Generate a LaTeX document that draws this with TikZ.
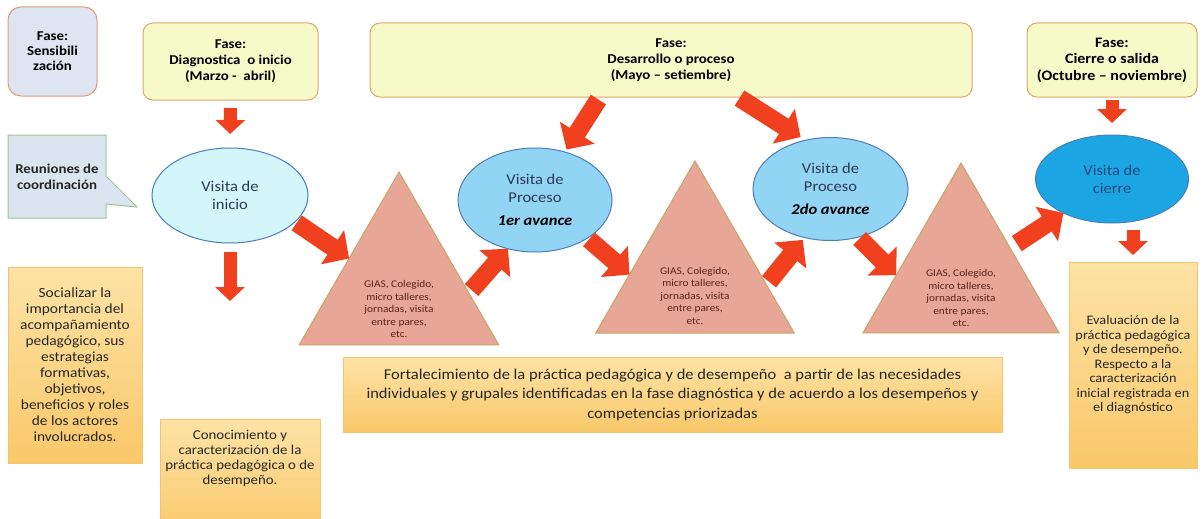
\documentclass[tikz,border=0pt]{standalone}
\usepackage{fontspec}
\setmainfont{Carlito}[FakeStretch=1.1]
\usetikzlibrary{arrows.meta,calc,shapes.geometric,shapes.callouts}
\definecolor{PLine}{HTML}{DDA76A}
\definecolor{PFill}{HTML}{F6FAC9}
\definecolor{SFill}{HTML}{DEE4F2}
\definecolor{SLine}{HTML}{DE9C7C}
\definecolor{RFill}{HTML}{DAE5F0}
\definecolor{RLine}{HTML}{A3C09A}
\definecolor{EIni}{HTML}{D3F6FB}
\definecolor{EProc}{HTML}{92D4F4}
\definecolor{ECie}{HTML}{1BA6E3}
\definecolor{ELine}{HTML}{4A7EBB}
\definecolor{TFill}{HTML}{E8A696}
\definecolor{TLine}{HTML}{C8A468}
\definecolor{TText}{HTML}{5A2418}
\definecolor{OTop}{HTML}{FEE3A6}
\definecolor{OBot}{HTML}{F9C869}
\definecolor{OLine}{HTML}{F4C56C}
\definecolor{ARed}{HTML}{F0401E}
\definecolor{VText}{HTML}{2B3A55}
\definecolor{CText}{HTML}{1F4A80}

\begin{document}
\begin{tikzpicture}[
  x=1pt,y=-1pt,
  every node/.style={align=center,inner sep=0pt,outer sep=0pt},
  phase/.style={draw=PLine,fill=PFill,rounded corners=10pt,line width=1pt,
    font=\fontsize{13.5}{16}\selectfont\bfseries},
  sens/.style={draw=SLine,fill=SFill,rounded corners=13pt,line width=1pt,
    minimum width=89pt,minimum height=89pt,
    font=\fontsize{13.5}{15}\selectfont\bfseries},
  reu/.style={draw=RLine,fill=RFill,line width=1pt,rectangle callout,
    callout pointer width=28pt,
    font=\fontsize{13.5}{16}\selectfont\bfseries\color{black!85}},
  vis/.style={ellipse,draw=ELine,line width=1pt,text=VText,
    font=\fontsize{15}{18}\selectfont},
  tri/.style={regular polygon,regular polygon sides=3,draw=TLine,fill=TFill,
    line width=1pt},
  tritxt/.style={text=TText,font=\fontsize{10.3}{12.5}\selectfont},
  obox/.style={draw=OLine,top color=OTop,bottom color=OBot,line width=1pt,
    text=black!85},
  blk/.style={line width=13pt,draw=ARed,-{Triangle[length=14pt,width=29pt]}},
  bigblk/.style={line width=18pt,draw=ARed,-{Triangle[length=20pt,width=40pt]}}
]
  \useasboundingbox (0,0) rectangle (1204,519);

  % fases
  \node[sens] (sens) at (52.5,51.5) {Fase:\\Sensibili\\zación};
  \node[phase,minimum width=175pt,minimum height=77pt] (diag) at (230.5,61.5)
    {Fase:\\Diagnostica\ \ o inicio\\(Marzo -\ \ abril)};
  \node[phase,minimum width=602pt,minimum height=74pt] (dev) at (671,60)
    {Fase:\\Desarrollo o proceso\\(Mayo – setiembre)};
  \node[phase,minimum width=170pt,minimum height=74pt,
    font=\fontsize{14.5}{16.5}\selectfont\bfseries] (cie) at (1112,60)
    {Fase:\\Cierre o salida\\(Octubre – noviembre)};

  \node[reu,callout absolute pointer={(137,207)},minimum width=98pt,
    minimum height=83pt] (reu) at (57,176.5) {Reuniones de\\coordinación};

  % visitas
  \node[vis,fill=EIni,minimum width=156pt,minimum height=95pt] (vini)
    at (230,195.5) {Visita de\\inicio};
  \node[vis,fill=EProc,minimum width=154pt,minimum height=104pt] (vp1)
    at (535,200) {Visita de\\Proceso\\[5pt]\textcolor{black}{\textbf{\textit{1er avance}}}};
  \node[vis,fill=EProc,minimum width=155pt,minimum height=103pt] (vp2)
    at (830.5,189) {Visita de\\Proceso\\[5pt]\textcolor{black}{\textbf{\textit{2do avance}}}};
  \node[vis,fill=ECie,minimum width=153pt,minimum height=88pt,text=CText] (vcie)
    at (1112,179) {Visita de\\cierre};

  % GIAS
  \node[tri,minimum size=230.6pt] (g1) at (399,287.3) {};
  \node[tri,minimum size=229.4pt] (g2) at (695,275.7) {};
  \node[tri,minimum size=226.7pt] (g3) at (961,276.3) {};
  \foreach \g/\d in {g1/22,g2/20,g3/22}
    \node[tritxt] (\g txt) at ($(\g.center)+(0,\d)$)
      {GIAS, Colegido,\\micro talleres,\\jornadas, visita\\entre pares,\\etc.};

  % productos
  \node[obox,minimum width=134pt,minimum height=196pt,
    font=\fontsize{14}{16}\selectfont] (soc) at (75,365)
    {Socializar la\\importancia del\\acompañamiento\\pedagógico, sus\\estrategias\\
     formativas,\\objetivos,\\beneficios y roles\\de los actores\\involucrados.};
  \node[obox,minimum width=160pt,minimum height=120pt,anchor=north] (con)
    at (240,419) {};
  \node[text=black!85,font=\fontsize{13.5}{15}\selectfont,anchor=north] (contxt)
    at ($(con.north)+(0,11)$)
    {Conocimiento y\\caracterización de la\\práctica pedagógica o de\\desempeño.};
  \node[obox,minimum width=659pt,minimum height=75pt,
    font=\fontsize{15}{19.5}\selectfont] (fort) at (672.5,394.5)
    {Fortalecimiento de la práctica pedagógica y de desempeño\ \ a partir de las necesidades\\
     individuales y grupales identificadas en la fase diagnóstica y de acuerdo a los desempeños y\\
     competencias priorizadas};
  \node[obox,minimum width=128pt,minimum height=206pt,
    font=\fontsize{13}{14.5}\selectfont] (eva) at (1133,365)
    {Evaluación de la\\práctica pedagógica\\y de desempeño.\\Respecto a la\\
     caracterización\\inicial registrada en\\el diagnóstico};

  % flechas
  \draw[blk,shorten <=8pt,shorten >=14pt] (diag.south) -- (vini.north);
  \draw[blk,shorten <=3pt,shorten >=12pt] (cie.south) -- (vcie.north);
  \draw[blk,shorten <=9pt,shorten >=118pt] (vini.south) -- (vini.south |- con.north);
  \draw[blk,shorten <=7pt,shorten >=7pt] (vcie.south -| eva.north) -- (eva.north);
  \draw[bigblk,shorten <=3pt,shorten >=3pt]
    ($(dev.south west)!0.382!(dev.south east)$) -- (vp1.58);
  \draw[bigblk,shorten <=2pt,shorten >=6pt]
    ($(dev.south west)!0.611!(dev.south east)$) -- (vp2.117);
  \draw[bigblk,shorten <=2pt] (vini.-22) -- (g1.side 1);
  \draw[bigblk,shorten <=4pt] ($(g1.corner 1)!0.7!(g1.corner 3)$) -- (vp1.241);
  \draw[bigblk,shorten <=2pt] (vp1.-36) -- ($(g2.corner 1)!0.66!(g2.corner 2)$);
  \draw[bigblk,shorten <=4pt,shorten >=3pt] ($(g2.corner 1)!0.72!(g2.corner 3)$) -- (vp2.242);
  \draw[bigblk,shorten <=2pt] (vp2.-60) -- ($(g3.corner 1)!0.66!(g3.corner 2)$);
  \draw[bigblk,shorten <=8pt] ($(g3.corner 1)!0.5!(g3.corner 3)$) -- (vcie.215);
\end{tikzpicture}
\end{document}
